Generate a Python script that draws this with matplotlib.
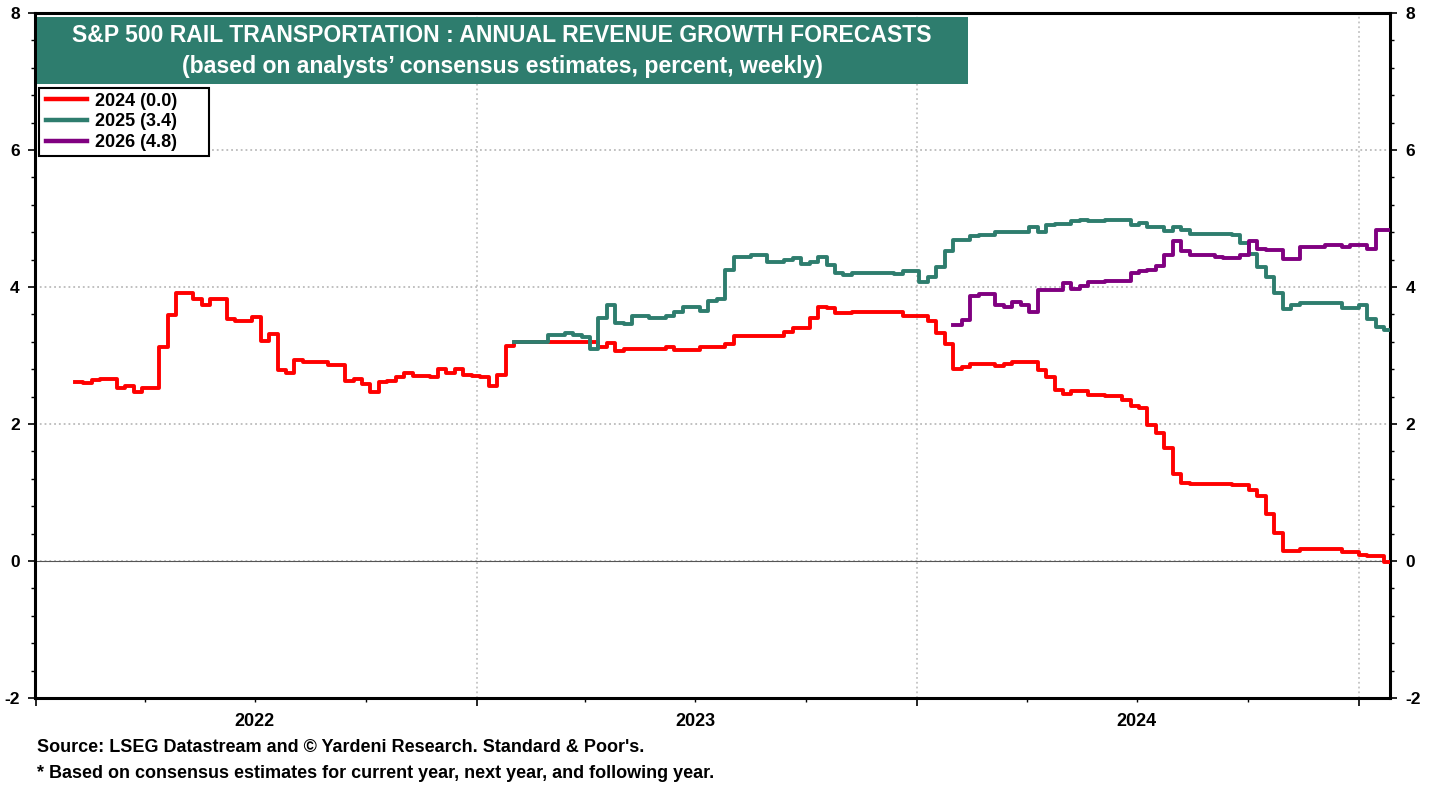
import pandas as pd
import matplotlib
matplotlib.use("Agg")
import matplotlib.pyplot as plt
import matplotlib.dates as mdates
from matplotlib.ticker import MultipleLocator, FuncFormatter, NullFormatter
from matplotlib.patches import Rectangle

# Dados (leitura aproximada do grafico de referencia)
red_dates = [
    "2022-02-02", "2022-02-09", "2022-02-16", "2022-02-23", "2022-03-09", "2022-03-16",
    "2022-03-23", "2022-03-30", "2022-04-06", "2022-04-13", "2022-04-20", "2022-04-27",
    "2022-05-11", "2022-05-18", "2022-05-25", "2022-06-08", "2022-06-15", "2022-06-29",
    "2022-07-06", "2022-07-13", "2022-07-20", "2022-07-27", "2022-08-03", "2022-08-10",
    "2022-08-31", "2022-09-14", "2022-09-21", "2022-09-28", "2022-10-05", "2022-10-12",
    "2022-10-19", "2022-10-26", "2022-11-02", "2022-11-09", "2022-11-23", "2022-11-30",
    "2022-12-07", "2022-12-14", "2022-12-21", "2022-12-28", "2023-01-04", "2023-01-11",
    "2023-01-18", "2023-01-25", "2023-02-01", "2023-04-12", "2023-04-19", "2023-04-26",
    "2023-05-03", "2023-05-10", "2023-06-07", "2023-06-14", "2023-07-05", "2023-07-26",
    "2023-08-02", "2023-09-13", "2023-09-20", "2023-10-04", "2023-10-11", "2023-10-18",
    "2023-10-25", "2023-11-08", "2023-12-20", "2024-01-10", "2024-01-17", "2024-01-24",
    "2024-01-31", "2024-02-07", "2024-02-14", "2024-03-06", "2024-03-13", "2024-03-20",
    "2024-04-03", "2024-04-10", "2024-04-17", "2024-04-24", "2024-05-01", "2024-05-08",
    "2024-05-22", "2024-06-05", "2024-06-19", "2024-06-26", "2024-07-03", "2024-07-10",
    "2024-07-17", "2024-07-24", "2024-07-31", "2024-08-07", "2024-08-14", "2024-09-18",
    "2024-10-02", "2024-10-09", "2024-10-16", "2024-10-23", "2024-10-30", "2024-11-13",
    "2024-12-18", "2025-01-01", "2025-01-08", "2025-01-22",
]
red_values = [
    2.62, 2.60, 2.64, 2.66, 2.52, 2.56,
    2.46, 2.52, 2.53, 3.13, 3.59, 3.91,
    3.83, 3.74, 3.82, 3.54, 3.51, 3.56,
    3.21, 3.31, 2.79, 2.75, 2.93, 2.90,
    2.86, 2.63, 2.66, 2.59, 2.47, 2.62,
    2.63, 2.68, 2.74, 2.70, 2.68, 2.81,
    2.75, 2.81, 2.72, 2.70, 2.68, 2.56,
    2.72, 3.14, 3.20, 3.13, 3.18, 3.07,
    3.09, 3.10, 3.12, 3.08, 3.12, 3.17,
    3.29, 3.35, 3.40, 3.55, 3.71, 3.70,
    3.62, 3.64, 3.57, 3.51, 3.33, 3.17,
    2.81, 2.83, 2.88, 2.84, 2.87, 2.91,
    2.90, 2.79, 2.68, 2.50, 2.44, 2.48,
    2.42, 2.41, 2.35, 2.26, 2.23, 1.98,
    1.87, 1.65, 1.27, 1.14, 1.12, 1.11,
    1.04, 0.95, 0.68, 0.41, 0.15, 0.17,
    0.13, 0.09, 0.07, -0.02,
]

green_dates = [
    "2023-02-01", "2023-03-01", "2023-03-15", "2023-03-22", "2023-03-29", "2023-04-05",
    "2023-04-12", "2023-04-19", "2023-04-26", "2023-05-03", "2023-05-10", "2023-05-24",
    "2023-06-07", "2023-06-14", "2023-06-21", "2023-07-05", "2023-07-12", "2023-07-19",
    "2023-07-26", "2023-08-02", "2023-08-16", "2023-08-30", "2023-09-13", "2023-09-20",
    "2023-09-27", "2023-10-04", "2023-10-11", "2023-10-18", "2023-10-25", "2023-11-01",
    "2023-11-08", "2023-12-13", "2023-12-20", "2024-01-03", "2024-01-10", "2024-01-17",
    "2024-01-24", "2024-01-31", "2024-02-14", "2024-02-21", "2024-03-06", "2024-04-03",
    "2024-04-10", "2024-04-17", "2024-04-24", "2024-05-08", "2024-05-15", "2024-05-22",
    "2024-06-05", "2024-06-26", "2024-07-03", "2024-07-10", "2024-07-24", "2024-07-31",
    "2024-08-07", "2024-08-14", "2024-09-18", "2024-09-25", "2024-10-02", "2024-10-09",
    "2024-10-16", "2024-10-23", "2024-10-30", "2024-11-06", "2024-11-13", "2024-12-18",
    "2025-01-01", "2025-01-08", "2025-01-15", "2025-01-22",
]
green_values = [
    3.20, 3.30, 3.33, 3.30, 3.27, 3.09,
    3.55, 3.74, 3.48, 3.46, 3.58, 3.55,
    3.58, 3.64, 3.71, 3.65, 3.79, 3.83,
    4.25, 4.44, 4.46, 4.37, 4.40, 4.43,
    4.34, 4.36, 4.44, 4.32, 4.20, 4.18,
    4.21, 4.19, 4.23, 4.07, 4.15, 4.29,
    4.52, 4.69, 4.74, 4.76, 4.81, 4.88,
    4.81, 4.91, 4.92, 4.96, 4.98, 4.96,
    4.98, 4.91, 4.93, 4.87, 4.82, 4.88,
    4.83, 4.78, 4.76, 4.64, 4.48, 4.29,
    4.15, 3.91, 3.68, 3.73, 3.76, 3.69,
    3.73, 3.53, 3.42, 3.37,
]

purple_dates = [
    "2024-01-31", "2024-02-07", "2024-02-14", "2024-02-21", "2024-03-06", "2024-03-13",
    "2024-03-20", "2024-03-27", "2024-04-03", "2024-04-10", "2024-04-24", "2024-05-01",
    "2024-05-08", "2024-05-15", "2024-05-22", "2024-06-05", "2024-06-26", "2024-07-03",
    "2024-07-10", "2024-07-17", "2024-07-24", "2024-07-31", "2024-08-07", "2024-08-14",
    "2024-09-04", "2024-09-11", "2024-09-25", "2024-10-02", "2024-10-09", "2024-10-16",
    "2024-10-30", "2024-11-13", "2024-12-04", "2024-12-11", "2024-12-18", "2024-12-25",
    "2025-01-08", "2025-01-15",
]
purple_values = [
    3.45, 3.52, 3.87, 3.90, 3.74, 3.71,
    3.78, 3.74, 3.64, 3.95, 3.96, 4.06,
    3.97, 4.01, 4.07, 4.09, 4.20, 4.23,
    4.25, 4.30, 4.46, 4.67, 4.52, 4.47,
    4.44, 4.42, 4.46, 4.67, 4.56, 4.54,
    4.41, 4.58, 4.61, 4.62, 4.59, 4.62,
    4.56, 4.83,
]

last_date = "2025-01-26"
series_labels = ["2024 (0.0)", "2025 (3.4)", "2026 (4.8)"]
series_colors = ["#FF0000", "#2E7D6E", "#800080"]

title_line1 = "S&P 500 RAIL TRANSPORTATION : ANNUAL REVENUE GROWTH FORECASTS"
title_line2 = "(based on analysts\u2019 consensus estimates, percent, weekly)"
footer1 = "Source: LSEG Datastream and \u00a9 Yardeni Research. Standard & Poor's."
footer2 = "* Based on consensus estimates for current year, next year, and following year."


def make_series(dates, values):
    # acrescenta o ultimo ponto para o degrau final
    d = pd.to_datetime(list(dates) + [last_date])
    v = list(values) + [values[-1]]
    return d, v


plt.rcParams["font.family"] = ["Liberation Sans", "DejaVu Sans"]
plt.rcParams["font.weight"] = "bold"
plt.rcParams["axes.unicode_minus"] = False

W, H = 1438, 785
fig = plt.figure(figsize=(W / 100, H / 100), dpi=100)
ax = fig.add_axes([35 / W, 1 - 698 / H, (1390 - 35) / W, (698 - 13) / H])

for dates, values, lab, col in zip(
    [red_dates, green_dates, purple_dates],
    [red_values, green_values, purple_values],
    series_labels,
    series_colors,
):
    d, v = make_series(dates, values)
    ax.plot(d, v, drawstyle="steps-post", color=col, lw=2.8, label=lab, zorder=3)

ax.set_ylim(-2, 8)
ax.set_xlim(pd.Timestamp("2021-12-31"), pd.Timestamp("2025-01-27"))

# eixo y
ax.yaxis.set_major_locator(MultipleLocator(2))
ax.yaxis.set_minor_locator(MultipleLocator(0.4))
ax.tick_params(axis="y", which="both", left=True, right=True, labelleft=True,
               labelright=True, direction="out")
ax.tick_params(axis="y", which="major", length=5, width=1.2, labelsize=12.5, pad=6)
ax.tick_params(axis="y", which="minor", length=3, width=1.0)

# eixo x: anos nos ticks maiores, trimestres nos menores, rotulo no meio do ano
ax.xaxis.set_major_locator(mdates.YearLocator())
ax.xaxis.set_major_formatter(NullFormatter())
ax.xaxis.set_minor_locator(mdates.MonthLocator(bymonth=[4, 7, 10]))


def year_label(x, pos):
    dt = mdates.num2date(x)
    return str(dt.year) if dt.month == 7 else ""


ax.xaxis.set_minor_formatter(FuncFormatter(year_label))
ax.tick_params(axis="x", which="major", length=6, width=1.2, direction="out")
ax.tick_params(axis="x", which="minor", length=3, width=1.0, direction="out",
               labelsize=13, pad=8)

for s in ax.spines.values():
    s.set_linewidth(2.2)

ax.grid(axis="x", which="major", linestyle=":", color="#C4C4C4", lw=1.3)
ax.grid(axis="y", which="major", linestyle=":", color="#BBBBBB", lw=1.3)
ax.axhline(0, color="#555555", lw=0.8, zorder=2)

# legenda com moldura propria
ax.add_patch(Rectangle((39 / W, 1 - 156 / H), (209 - 39) / W, (156 - 88) / H,
                       transform=fig.transFigure, facecolor="white",
                       edgecolor="black", lw=1.5, zorder=6))
leg = ax.legend(loc="upper left", bbox_to_anchor=(44 / W, 1 - 91 / H),
                bbox_transform=fig.transFigure, frameon=False,
                fontsize=13, handlelength=2.3, handletextpad=0.4,
                labelspacing=0.2, borderpad=0.1, borderaxespad=0)
leg.set_zorder(7)
for line in leg.get_lines():
    line.set_linewidth(3.2)

# caixa do titulo
fig.patches.append(Rectangle((37 / W, 1 - 84 / H), (968 - 37) / W, (84 - 17) / H,
                             transform=fig.transFigure, facecolor="#2E7D6E",
                             edgecolor="none", zorder=5))
fig.text(502 / W, 1 - 35 / H, title_line1, color="white", fontsize=16.6,
         ha="center", va="center", zorder=6)
fig.text(502 / W, 1 - 67 / H, title_line2, color="white", fontsize=16.6,
         ha="center", va="center", zorder=6)

fig.text(37 / W, 1 - 747 / H, footer1, fontsize=13, ha="left", va="center")
fig.text(37 / W, 1 - 773 / H, footer2, fontsize=13, ha="left", va="center")

fig.savefig("out.png", dpi=100)
